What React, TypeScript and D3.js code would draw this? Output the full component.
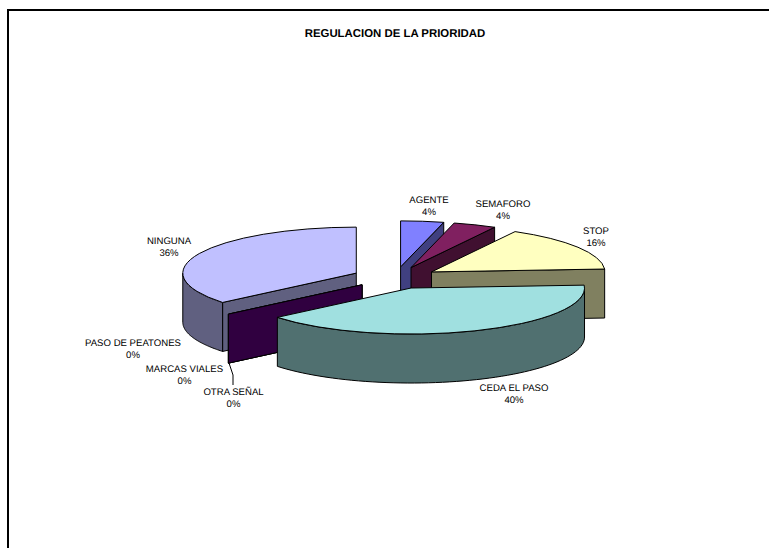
import React from "react";
import * as d3 from "d3";

const categories = ["AGENTE", "SEMAFORO", "STOP", "CEDA EL PASO", "OTRA SEÑAL", "MARCAS VIALES", "PASO DE PEATONES", "NINGUNA"];
const shares = [4, 4, 16, 40, 0, 0, 0, 36];
const topColors = ["#8080ff", "#802060", "#ffffc0", "#a0e0e0", "#600080", "#e08080", "#0080c0", "#c0c0ff"];
const wallColors = ["#404080", "#401030", "#808060", "#507070", "#300040", "#704040", "#004060", "#606080"];
const drawOrder = [7, 6, 5, 0, 1, 2, 4, 3];
const labelX = [429, 503, 596, 514, 233.5, 184.5, 133, 169];
const labelY = [203, 207, 234, 391, 395, 372, 346, 244];
const title = "REGULACION DE LA PRIORIDAD";

const W = 769, H = 548;
const cx = 395.2, cy = 277.8, rx = 173.5, ry = 46, depth = 49, exX = 43, exY = 11;
const font = "'Liberation Sans', Arial, sans-serif";

const arcs = d3.pie<number>().sort(null).value((d) => d).startAngle(0).endAngle(2 * Math.PI)(shares);
const k = ry / rx;
const arcGen = d3.arc<any>().innerRadius(0).outerRadius(rx);
const xAt = (ox: number, a: number) => ox + rx * Math.sin(a);
const yAt = (oy: number, a: number) => oy - ry * Math.cos(a);

function Slice({ i }: { i: number }) {
  const s = arcs[i];
  const mid = (s.startAngle + s.endAngle) / 2;
  const ox = cx + exX * Math.sin(mid);
  const oy = cy - exY * Math.cos(mid);
  const face = (a: number) =>
    `M${ox},${oy}L${xAt(ox, a)},${yAt(oy, a)}L${xAt(ox, a)},${yAt(oy, a) + depth}L${ox},${oy + depth}Z`;
  const lo = Math.max(s.startAngle, Math.PI / 2);
  const hi = Math.min(s.endAngle, (3 * Math.PI) / 2);
  const wall =
    hi > lo
      ? d3
          .area<number>()
          .x((a) => xAt(ox, a))
          .y0((a) => yAt(oy, a))
          .y1((a) => yAt(oy, a) + depth)(d3.range(0, 61).map((t) => lo + ((hi - lo) * t) / 60))
      : null;
  const st = { stroke: "#000", strokeWidth: 1, strokeLinejoin: "round" as const };
  const startVisible = s.startAngle > Math.PI;
  const endVisible = s.endAngle < Math.PI;
  return (
    <g>
      {startVisible && <path d={face(s.startAngle)} fill={wallColors[i]} {...st} />}
      {endVisible && <path d={face(s.endAngle)} fill={wallColors[i]} {...st} />}
      {wall && <path d={wall} fill={wallColors[i]} {...st} />}
      {s.endAngle > s.startAngle && (
        <g transform={`translate(${ox},${oy}) scale(1,${k})`}>
          <path d={arcGen(s) as string} fill={topColors[i]} {...st} vectorEffect="non-scaling-stroke" />
        </g>
      )}
    </g>
  );
}

export default function App() {
  return (
    <svg width={W} height={H} style={{ position: "absolute", left: 0, top: 0 }}>
      <rect width={W} height={H} fill="#fff" />
      <path d={`M8,${H}V10H${W}`} fill="none" stroke="#000" strokeWidth={2} />
      <text x={395} y={37} textAnchor="middle" fontFamily={font} fontWeight="bold" fontSize={11.4} textRendering="geometricPrecision">{title}</text>
      {drawOrder.map((i) => <Slice key={i} i={i} />)}
      <path d="M229,363L233,375V385" fill="none" stroke="#000" strokeWidth={1} />
      {categories.map((c, i) => (
        <text key={c} textAnchor="middle" fontFamily={font} fontSize={9.6} fill="#000" textRendering="geometricPrecision">
          <tspan x={labelX[i]} y={labelY[i]}>{c}</tspan>
          <tspan x={labelX[i]} y={labelY[i] + 11.7}>{shares[i]}%</tspan>
        </text>
      ))}
    </svg>
  );
}
